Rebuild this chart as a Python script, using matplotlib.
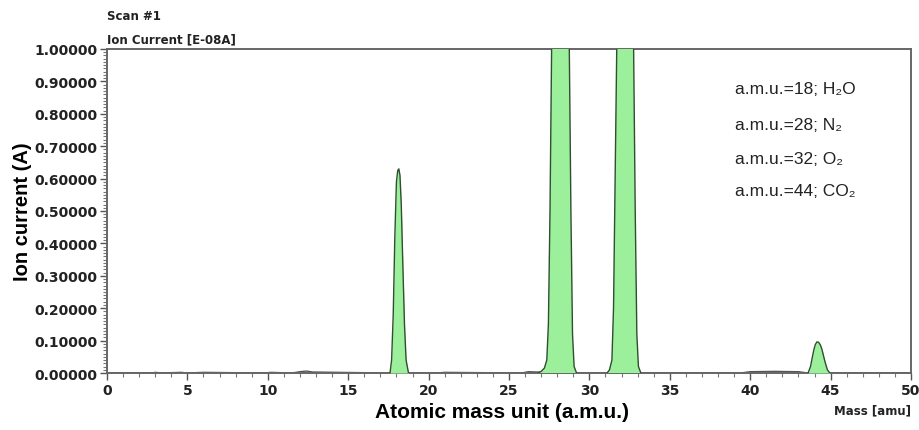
import matplotlib
matplotlib.use("Agg")
import matplotlib.pyplot as plt
from matplotlib.ticker import MultipleLocator, FormatStrFormatter

# ---- data (mass in amu, ion current) ----
h2o_mass = [17.6, 17.7, 17.8, 17.9, 18.0, 18.08, 18.15, 18.22, 18.3, 18.4, 18.5, 18.6, 18.75]
h2o_curr = [0.0, 0.04, 0.18, 0.42, 0.59, 0.625, 0.63, 0.61, 0.52, 0.33, 0.15, 0.04, 0.0]

n2_mass = [26.8, 27.0, 27.2, 27.35, 27.45, 27.55, 27.65, 27.8, 28.2, 28.6, 28.75, 28.85, 28.95, 29.05, 29.2]
n2_curr = [0.0, 0.005, 0.015, 0.04, 0.15, 0.5, 1.0, 2.5, 4.0, 2.5, 1.0, 0.5, 0.12, 0.02, 0.0]

o2_mass = [31.1, 31.25, 31.4, 31.5, 31.6, 31.7, 31.85, 32.2, 32.6, 32.75, 32.85, 32.95, 33.05, 33.2]
o2_curr = [0.0, 0.01, 0.04, 0.2, 0.6, 1.0, 2.5, 4.0, 2.5, 1.0, 0.5, 0.12, 0.02, 0.0]

co2_mass = [43.6, 43.75, 43.85, 43.95, 44.05, 44.15, 44.25, 44.35, 44.45, 44.55, 44.65, 44.8, 44.95]
co2_curr = [0.0, 0.02, 0.045, 0.07, 0.088, 0.096, 0.095, 0.088, 0.075, 0.055, 0.035, 0.01, 0.0]

base_mass = [0, 2.8, 3.0, 3.4, 4.6, 5.0, 6.0, 9.8, 10.2, 11.5, 12.0, 12.4, 12.8, 17.6,
             18.75, 20.5, 21.0, 25.8, 26.2, 26.8, 29.2, 31.1, 33.2, 39.4, 40.0, 41.5, 43.0, 43.6,
             44.95, 50]
base_curr = [0.0, 0.0, 0.002, 0.0, 0.002, 0.0, 0.002, 0.0, 0.002, 0.0, 0.004, 0.006, 0.003, 0.0,
             0.0, 0.0, 0.002, 0.0, 0.004, 0.003, 0.0, 0.0, 0.0, 0.0, 0.004, 0.005, 0.004, 0.0,
             0.0, 0.0]

legend_lines = ["a.m.u.=18; H\u2082O", "a.m.u.=28; N\u2082", "a.m.u.=32; O\u2082", "a.m.u.=44; CO\u2082"]

x_ticks = [0, 5, 10, 15, 20, 25, 30, 35, 40, 45, 50]
y_ticks = [0.0, 0.1, 0.2, 0.3, 0.4, 0.5, 0.6, 0.7, 0.8, 0.9, 1.0]

# ---- figure ----
plt.rcParams['font.family'] = ['Liberation Sans', 'DejaVu Sans']
fig = plt.figure(figsize=(9.19, 4.31), dpi=100)
ax = fig.add_axes([107/919, 1-374/431, (911-107)/919, (374-50)/431])

fill_c = '#9cf09c'
edge_c = '#2f4f2f'
ax.plot(base_mass, base_curr, color='#555555', lw=1.0, zorder=2)
for m, c in [(h2o_mass, h2o_curr), (n2_mass, n2_curr), (o2_mass, o2_curr), (co2_mass, co2_curr)]:
    ax.fill_between(m, 0, c, color=fill_c, zorder=3, lw=0)
    ax.plot(m, c, color=edge_c, lw=1.0, zorder=4)

ax.set_xlim(0, 50)
ax.set_ylim(0, 1.0)
ax.set_xticks(x_ticks)
ax.set_yticks(y_ticks)
ax.xaxis.set_minor_locator(MultipleLocator(1))
ax.yaxis.set_minor_locator(MultipleLocator(0.01))
ax.yaxis.set_major_formatter(FormatStrFormatter('%.5f'))
ax.xaxis.set_major_formatter(FormatStrFormatter('%d'))

for s in ax.spines.values():
    s.set_color('#666666')
    s.set_linewidth(1.4)
ax.tick_params(axis='both', which='major', length=5, width=1.0, color='#555555', pad=2)
ax.tick_params(axis='both', which='minor', length=3, width=0.8, color='#777777')
for lab in ax.get_xticklabels() + ax.get_yticklabels():
    lab.set_fontweight('bold')
    lab.set_color('#222222')
    lab.set_family('DejaVu Sans')
    lab.set_fontsize(10)

ax.set_ylabel('Ion current (A)', fontsize=14.5, fontweight='bold')
ax.yaxis.set_label_coords((32-107)/804, 0.5)

small = dict(fontsize=8.5, fontweight='bold', va='center', color='#222222', family='DejaVu Sans')
fig.text(107/919, 1-17/431, 'Scan #1', ha='left', **small)
fig.text(107/919, 1-40/431, 'Ion Current [E-08A]', ha='left', **small)
fig.text(911/919, 1-411/431, 'Mass [amu]', ha='right', **small)
fig.text(502/919, 1-413/431, 'Atomic mass unit (a.m.u.)', fontsize=15, fontweight='bold', va='center', ha='center')

ys = [90, 125, 159, 192]
for t, y in zip(legend_lines, ys):
    fig.text(735/919, 1-y/431, t, fontsize=12.5, va='center', ha='left', color='#222222')

fig.savefig('out.png', dpi=100)
